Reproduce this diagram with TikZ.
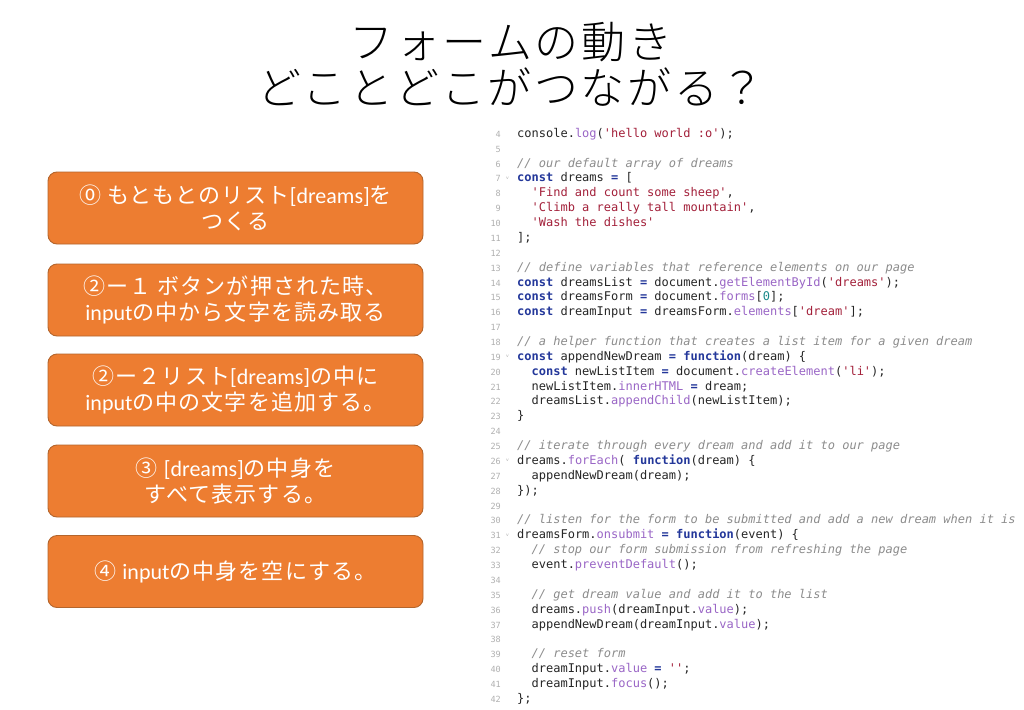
\documentclass[tikz,border=0pt]{standalone}
\usepackage{fontspec}
\setmainfont{Carlito}
\setmonofont{DejaVu Sans Mono}
\newfontfamily\jp{Noto Sans CJK JP}[LetterSpace=5]
\newfontfamily\jpt{Noto Sans CJK JP Light}[LetterSpace=6]
\definecolor{boxfill}{HTML}{ED7D31}
\definecolor{boxline}{HTML}{B4652C}
\definecolor{kwc}{HTML}{23379A}
\definecolor{stc}{HTML}{A3203A}
\definecolor{fnc}{HTML}{9A66C6}
\definecolor{cmc}{HTML}{8C8C8C}
\definecolor{nmc}{HTML}{1B8A8A}
\definecolor{lnc}{HTML}{B0B0B0}
\newcommand\kw[1]{{\color{kwc}\bfseries #1}}
\newcommand\st[1]{{\color{stc}#1}}
\newcommand\fn[1]{{\color{fnc}#1}}
\newcommand\cm[1]{{\color{cmc}\itshape #1}}
\newcommand\nm[1]{{\color{nmc}#1}}
\newcommand\op[1]{{\color{kwc}\bfseries #1}}
\newcommand\lny[1]{133+(#1-4)*14.87+4.3}
\newcommand\cl[3]{\node[codeline] (c#1) at ({517+#2*7.22},{\lny{#1}}) {#3};\node[lnum] (n#1) at (501,{\lny{#1}}) {#1};}
\newcommand\el[1]{\node[lnum] (n#1) at (501,{\lny{#1}}) {#1};}
\newcommand\fd[1]{\node[fold] (f#1) at (506,{\lny{#1}-2.5}) {v};}
\begin{document}
\begin{tikzpicture}[x=1pt,y=-1pt,
  stepbox/.style={draw=boxline,line width=0.9pt,fill=boxfill,rounded corners=9pt,
    minimum width=375pt,minimum height=72pt,text=white,align=center,
    font=\fontsize{22}{25.5}\selectfont,inner sep=0pt},
  codeline/.style={anchor=base west,inner sep=0pt,text=black!85,font=\fontsize{12}{14}\selectfont\ttfamily\frenchspacing},
  lnum/.style={anchor=base east,inner sep=0pt,text=lnc,font=\fontsize{8.5}{9}\selectfont\ttfamily},
  fold/.style={anchor=base west,inner sep=0pt,text=lnc,font=\fontsize{5.5}{6}\selectfont\sffamily},
  titlet/.style={align=center,inner sep=0pt,font=\jpt\fontsize{44}{46}\selectfont}]
\useasboundingbox[fill=white] (0,0) rectangle (1024,709);
\node[titlet] (title) at (511,64) {フォームの動き\\どことどこがつながる？};
\node[stepbox] (b1) at (235.5,208) {{\jp ⓪ もともとのリスト}[dreams]{\jp を}\\{\jp つくる}};
\node[stepbox] (b2) at (235.5,300) {{\jp ②ー１ ボタンが押された時、}\\input{\jp の中から文字を読み取る}};
\node[stepbox] (b3) at (235.5,390) {{\jp ②ー２リスト}[dreams]{\jp の中に}\\input{\jp の中の文字を追加する。}};
\node[stepbox] (b4) at (235.5,481) {{\jp ③ }[dreams]{\jp の中身を}\\{\jp すべて表示する。}};
\node[stepbox] (b5) at (235.5,571.5) {{\jp ④ }input{\jp の中身を空にする。}};
\cl{4}{0}{console.\fn{log}(\st{'hello world :o'});}
\el{5}
\cl{6}{0}{\cm{// our default array of dreams}}
\cl{7}{0}{\kw{const} dreams \op{=} [}\fd{7}
\cl{8}{2}{\st{'Find and count some sheep'},}
\cl{9}{2}{\st{'Climb a really tall mountain'},}
\cl{10}{2}{\st{'Wash the dishes'}}
\cl{11}{0}{];}
\el{12}
\cl{13}{0}{\cm{// define variables that reference elements on our page}}
\cl{14}{0}{\kw{const} dreamsList \op{=} document.\fn{getElementById}(\st{'dreams'});}
\cl{15}{0}{\kw{const} dreamsForm \op{=} document.\fn{forms}[\nm{0}];}
\cl{16}{0}{\kw{const} dreamInput \op{=} dreamsForm.\fn{elements}[\st{'dream'}];}
\el{17}
\cl{18}{0}{\cm{// a helper function that creates a list item for a given dream}}
\cl{19}{0}{\kw{const} appendNewDream \op{=} \kw{function}(dream) \{}\fd{19}
\cl{20}{2}{\kw{const} newListItem \op{=} document.\fn{createElement}(\st{'li'});}
\cl{21}{2}{newListItem.\fn{innerHTML} \op{=} dream;}
\cl{22}{2}{dreamsList.\fn{appendChild}(newListItem);}
\cl{23}{0}{\}}
\el{24}
\cl{25}{0}{\cm{// iterate through every dream and add it to our page}}
\cl{26}{0}{dreams.\fn{forEach}( \kw{function}(dream) \{}\fd{26}
\cl{27}{2}{appendNewDream(dream);}
\cl{28}{0}{\});}
\el{29}
\cl{30}{0}{\cm{// listen for the form to be submitted and add a new dream when it is}}
\cl{31}{0}{dreamsForm.\fn{onsubmit} \op{=} \kw{function}(event) \{}\fd{31}
\cl{32}{2}{\cm{// stop our form submission from refreshing the page}}
\cl{33}{2}{event.\fn{preventDefault}();}
\el{34}
\cl{35}{2}{\cm{// get dream value and add it to the list}}
\cl{36}{2}{dreams.\fn{push}(dreamInput.\fn{value});}
\cl{37}{2}{appendNewDream(dreamInput.\fn{value});}
\el{38}
\cl{39}{2}{\cm{// reset form}}
\cl{40}{2}{dreamInput.\fn{value} \op{=} \st{''};}
\cl{41}{2}{dreamInput.\fn{focus}();}
\cl{42}{0}{\};}
\end{tikzpicture}
\end{document}
